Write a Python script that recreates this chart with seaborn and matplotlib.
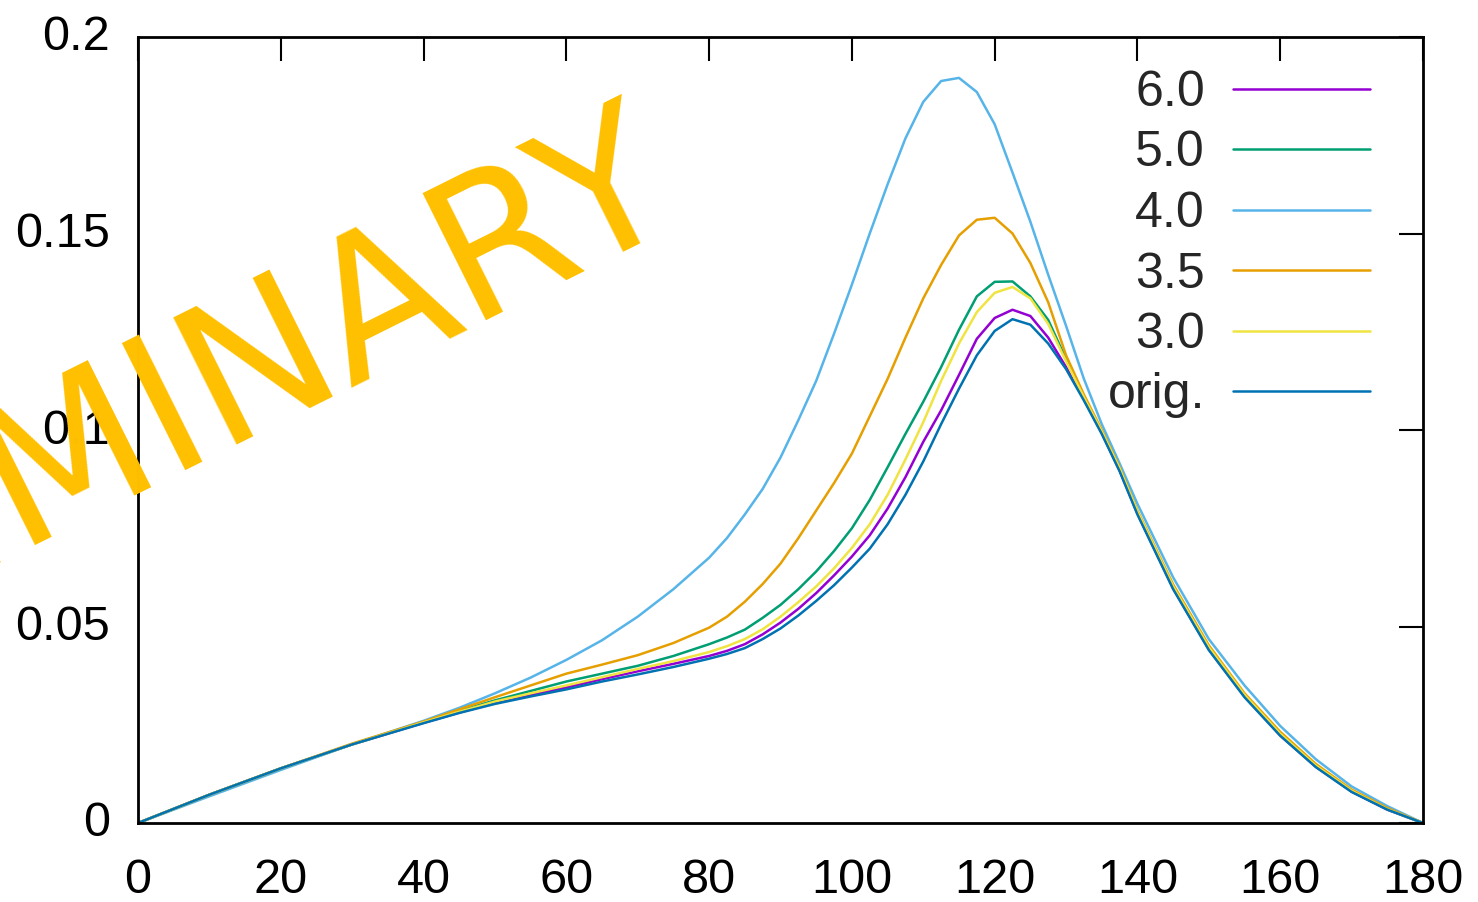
import matplotlib
matplotlib.use("Agg")
import matplotlib.pyplot as plt
import matplotlib.transforms as mtransforms
import pandas as pd
import seaborn as sns

# angle grid (degrees)
angle = [0, 10, 20, 30, 40, 45, 50, 55, 60, 65, 70, 75, 80, 82.5, 85, 87.5, 90,
         92.5, 95, 97.5, 100, 102.5, 105, 107.5, 110, 112.5, 115, 117.5, 120,
         122.5, 125, 127.5, 130, 132.5, 135, 137.5, 140, 145, 150, 155, 160,
         165, 170, 175, 180]

s60 = [0, .0072, .0139, .0200, .0255, .0281, .0306, .0326, .0345, .0366, .0386,
       .0405, .0425, .0438, .0455, .0480, .0510, .0545, .0585, .0630, .0678,
       .0732, .0800, .0880, .0970, .1050, .1140, .1232, .1285, .1306, .1290,
       .1235, .1160, .1078, .0992, .0897, .0787, .0597, .0442, .0322, .0223,
       .0143, .0080, .0034, 0]
s50 = [0, .0072, .0139, .0200, .0257, .0285, .0312, .0336, .0360, .0380, .0400,
       .0425, .0455, .0472, .0492, .0522, .0555, .0595, .0640, .0692, .0750,
       .0822, .0905, .0990, .1072, .1160, .1255, .1340, .1377, .1378, .1340,
       .1280, .1180, .1085, .0995, .0900, .0790, .0600, .0445, .0325, .0226,
       .0145, .0081, .0035, 0]
s40 = [0, .0068, .0135, .0200, .0260, .0293, .0330, .0370, .0415, .0465, .0525,
       .0595, .0675, .0725, .0785, .0850, .0930, .1025, .1125, .1245, .1370,
       .1500, .1625, .1742, .1835, .1888, .1896, .1860, .1778, .1655, .1530,
       .1395, .1265, .1130, .1015, .0915, .0812, .0625, .0468, .0350, .0247,
       .0162, .0093, .0043, 0]
s35 = [0, .0072, .0139, .0202, .0258, .0289, .0320, .0350, .0380, .0403, .0427,
       .0458, .0497, .0525, .0563, .0608, .0660, .0725, .0795, .0865, .0940,
       .1035, .1130, .1235, .1335, .1420, .1495, .1535, .1540, .1500, .1425,
       .1325, .1190, .1090, .1000, .0905, .0795, .0607, .0452, .0330, .0232,
       .0150, .0085, .0038, 0]
s30 = [0, .0072, .0139, .0200, .0256, .0283, .0309, .0330, .0350, .0371, .0392,
       .0412, .0435, .0450, .0468, .0493, .0525, .0562, .0602, .0648, .0700,
       .0760, .0835, .0925, .1020, .1125, .1220, .1300, .1349, .1364, .1335,
       .1270, .1175, .1083, .0996, .0902, .0792, .0602, .0447, .0326, .0227,
       .0146, .0082, .0035, 0]
orig = [0, .0072, .0139, .0200, .0254, .0280, .0303, .0322, .0340, .0360, .0378,
        .0397, .0418, .0430, .0445, .0468, .0495, .0528, .0565, .0605, .0650,
        .0698, .0760, .0835, .0920, .1015, .1105, .1190, .1252, .1282, .1268,
        .1220, .1155, .1075, .0990, .0895, .0785, .0595, .0440, .0320, .0222,
        .0142, .0079, .0034, 0]

labels = ["6.0", "5.0", "4.0", "3.5", "3.0", "orig."]
series = [s60, s50, s40, s35, s30, orig]
colors = ["#9400d3", "#009e73", "#56b4e9", "#e69f00", "#f0e442", "#0072b2"]

rows = []
for lab, vals in zip(labels, series):
    for a, v in zip(angle, vals):
        rows.append({"angle": a, "value": v, "set": lab})
df = pd.DataFrame(rows)

sns.set_theme(style="white")
plt.rcParams["font.family"] = ["Liberation Sans", "DejaVu Sans"]

fig = plt.figure(figsize=(14.78, 9.02), dpi=100)
ax = fig.add_axes([138 / 1478, 79 / 902, 1285 / 1478, 786 / 902])

sns.lineplot(data=df, x="angle", y="value", hue="set", hue_order=labels,
             palette=colors, linewidth=1.8, ax=ax, sort=False)

ax.set_xlim(0, 180)
ax.set_ylim(0, 0.2)
ax.set_xticks(range(0, 181, 20))
ax.set_yticks([0, 0.05, 0.1, 0.15, 0.2])
ax.yaxis.set_major_formatter(matplotlib.ticker.FuncFormatter(lambda v, p: f"{v:g}"))
ax.set_xlabel("")
ax.set_ylabel("")
for sp in ax.spines.values():
    sp.set_visible(True)
    sp.set_linewidth(2)
    sp.set_color("black")
ax.tick_params(direction="in", length=17, width=1.5, color="black",
               top=True, right=True, labelsize=35, labelcolor="black")
ax.tick_params(axis="x", pad=25)
ax.tick_params(axis="y", pad=20)

# nudge y tick labels up a little
shift = mtransforms.ScaledTranslation(0, 4 / 100, fig.dpi_scale_trans)
for lab in ax.get_yticklabels():
    lab.set_transform(lab.get_transform() + shift)

handles, _ = ax.get_legend_handles_labels()
ax.legend(handles, labels, loc="upper right", frameon=False, markerfirst=False,
          fontsize=36, handlelength=2.75, handletextpad=0.55, labelspacing=0.29,
          borderpad=0, borderaxespad=0,
          bbox_to_anchor=(1370 / 1478, 1 - 70 / 902), bbox_transform=fig.transFigure)

fig.text(684 / 1478, 1 - 212 / 902, "PRELIMINARY", rotation=26.5,
         rotation_mode="anchor", ha="right", va="baseline", fontsize=140,
         color="#ffc000", family="DejaVu Sans", zorder=10)

fig.savefig("out.png", dpi=100)
